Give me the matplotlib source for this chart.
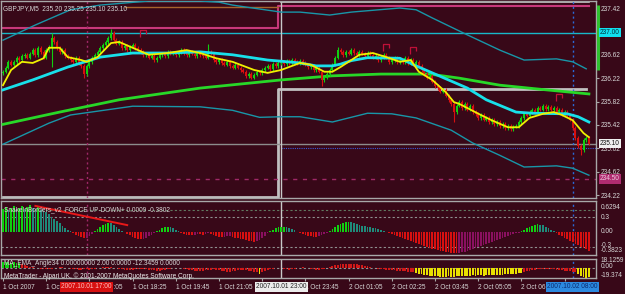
import matplotlib
matplotlib.use('Agg')
import matplotlib.pyplot as plt
import numpy as np
from matplotlib.path import Path
from matplotlib import font_manager
import matplotlib.transforms as mtransforms

# ---------------- data ----------------
first_open = 236.30
closes = [
    236.33, 236.40, 236.50, 236.45,
    236.50, 236.57, 236.53, 236.60, 236.62, 236.57, 236.64,
    236.70, 236.62, 236.74, 236.67, 236.57, 236.70, 236.76,
    236.91, 236.84,
    236.74, 236.67, 236.70, 236.60, 236.57,
    236.53, 236.50, 236.57, 236.47, 236.43, 236.29, 236.43, 236.50,
    236.57, 236.62, 236.67, 236.74, 236.79, 236.84,
    236.91, 236.99, 236.88,
    236.81, 236.84, 236.74, 236.77, 236.70, 236.76, 236.79,
    236.74, 236.70, 236.67, 236.62, 236.64, 236.57, 236.60, 236.53, 236.57,
    236.62, 236.64, 236.60, 236.67, 236.64, 236.65, 236.62, 236.67, 236.70, 236.65,
    236.62, 236.67, 236.64, 236.60, 236.65, 236.62,
    236.60, 236.57, 236.67, 236.64, 236.53, 236.50, 236.53,
    236.48, 236.45, 236.50, 236.43, 236.40, 236.45, 236.40, 236.36,
    236.33, 236.26, 236.29, 236.23, 236.28, 236.33, 236.31,
    236.36, 236.40, 236.43, 236.38, 236.46, 236.43, 236.48,
    236.50, 236.46, 236.52, 236.48, 236.53, 236.50, 236.48, 236.52,
    236.48, 236.45, 236.41, 236.43, 236.36, 236.40, 236.33, 236.19,
    236.23, 236.29, 236.36,
    236.45, 236.57, 236.70, 236.67, 236.62,
    236.67, 236.64, 236.70, 236.65, 236.62, 236.67, 236.64, 236.60, 236.65,
    236.62, 236.57, 236.60, 236.53, 236.58, 236.62, 236.57, 236.50, 236.53, 236.57, 236.50,
    236.53, 236.50, 236.57, 236.48, 236.53, 236.46, 236.50,
    236.43, 236.36, 236.29, 236.23, 236.26, 236.16, 236.09,
    236.05, 235.99, 236.02, 235.92, 235.85, 235.78, 235.64,
    235.75, 235.81, 235.71, 235.78, 235.68, 235.75, 235.64,
    235.61, 235.54, 235.59, 235.51, 235.54, 235.47, 235.51, 235.44,
    235.47, 235.40, 235.44, 235.37, 235.40, 235.35, 235.39, 235.40,
    235.47, 235.54, 235.61, 235.58, 235.64, 235.68, 235.64,
    235.71, 235.68, 235.75, 235.69, 235.73, 235.68, 235.71,
    235.64, 235.68, 235.61, 235.64, 235.58,
    235.51, 235.37, 235.20, 235.06,
    234.99, 235.16, 235.20, 235.10]
typical_wick = 0.03
spike_highs = {18: 237.00, 40: 237.06, 76: 236.81, 124: 236.75}
spike_lows = {18: 236.41, 30: 236.22, 118: 236.09, 167: 235.47, 214: 234.90}

yellow_x = [0, 3, 7, 11, 15, 17, 21, 24, 29, 31, 35, 40, 43, 48, 54, 61, 68, 73, 79, 85,
            93, 98, 103, 110, 114, 119, 122, 125, 129, 132, 137, 142, 147, 151, 154, 159,
            164, 167, 169, 177, 181, 187, 191, 195, 200, 204, 207, 211, 215, 217]
yellow_y = [236.10, 236.36, 236.50, 236.48, 236.56, 236.74, 236.74, 236.58, 236.53, 236.50,
            236.58, 236.82, 236.84, 236.74, 236.62, 236.65, 236.70, 236.65, 236.56, 236.50,
            236.36, 236.31, 236.36, 236.48, 236.45, 236.33, 236.33, 236.41, 236.53, 236.62,
            236.65, 236.58, 236.50, 236.53, 236.33, 236.19, 235.98, 235.81, 235.78, 235.59,
            235.50, 235.38, 235.38, 235.54, 235.61, 235.64, 235.59, 235.50, 235.28, 235.21]
cyan_x = [0, 11, 24, 36, 48, 61, 73, 85, 98, 103, 110, 116, 122, 125, 129, 135, 147, 152,
          159, 172, 179, 190, 196, 209, 213, 217]
cyan_y = [236.02, 236.19, 236.41, 236.58, 236.65, 236.65, 236.67, 236.62, 236.53, 236.51,
          236.48, 236.43, 236.43, 236.46, 236.52, 236.57, 236.56, 236.45, 236.31, 236.05,
          235.85, 235.64, 235.62, 235.61, 235.56, 235.47]
green_x = [0, 21, 43, 73, 103, 122, 140, 158, 169, 184, 199, 217]
green_y = [235.43, 235.64, 235.85, 236.05, 236.19, 236.26, 236.29, 236.29, 236.22, 236.10,
           236.03, 235.95]
upper_x = [0, 12, 25, 36, 54, 73, 80, 85, 103, 110, 121, 129, 147, 153, 159, 172, 184, 193,
           205, 211, 216]
upper_y = [236.87, 237.13, 237.39, 237.47, 237.54, 237.54, 237.52, 237.47, 237.35, 237.35,
           237.30, 237.35, 237.42, 237.39, 237.25, 236.96, 236.70, 236.53, 236.55, 236.50,
           236.38]
lower_x = [0, 17, 25, 48, 73, 85, 95, 103, 110, 122, 135, 144, 153, 166, 174, 184, 193,
           205, 211, 217]
lower_y = [235.09, 235.45, 235.59, 235.74, 235.73, 235.67, 235.55, 235.56, 235.56, 235.47,
           235.62, 235.61, 235.54, 235.33, 235.11, 234.90, 234.70, 234.72, 234.68, 234.56]

fractal_x = [52, 142, 152, 206]
fractal_y = [236.99, 236.75, 236.70, 235.90]

# day high/low level lines
pink_x = [0, 102, 102, 217]
pink_y = [237.08, 237.08, 237.45, 237.45]
brown_x = [45, 102]
brown_y = [237.44, 237.44]
gray_x = [0, 102, 102, 216]
gray_y = [234.19, 234.19, 236.03, 236.03]
graytop_x = [103, 217]
graytop_y = [237.52, 237.52]
bid_price = 235.10
ask_dotted = 235.03
cyan_level = 237.00
purple_level = 234.50
range_hi, range_lo = 237.47, 236.36

vline_1700 = 31
vline_2300 = 103
vline_0800 = 211

force_vals = [
    0.47, 0.50, 0.44, 0.48, 0.52, 0.46, 0.49, 0.53, 0.47, 0.50, 0.55, 0.48, 0.46, 0.51, 0.45, 0.43, 0.40,
    0.36, 0.31, 0.27, 0.22, 0.18, 0.13, 0.09, 0.05, 0.02,
    -0.03, -0.06, -0.09, -0.11, -0.13, -0.12, -0.09, -0.05,
    0.02, 0.06, 0.10, 0.14, 0.17, 0.19, 0.18, 0.15, 0.11, 0.07, 0.03, -0.01,
    -0.04, -0.07, -0.10, -0.12, -0.14, -0.15, -0.14, -0.12, -0.09, -0.06, -0.02,
    0.02, 0.05, 0.08, 0.10, 0.11, 0.10, 0.08, 0.05, 0.02,
    -0.02, -0.04, -0.06, -0.07, -0.07, -0.06, -0.05,
    -0.05, -0.06, -0.04, -0.03, -0.05, -0.07, -0.09, -0.10, -0.11, -0.10, -0.09, -0.08,
    -0.10, -0.12, -0.13, -0.14, -0.15, -0.17,
    -0.18, -0.19, -0.20, -0.19, -0.17, -0.13, -0.08, -0.03,
    0.02, 0.05, 0.08, 0.10, 0.11, 0.11, 0.10, 0.09, 0.07, 0.04, 0.01,
    -0.02, -0.04, -0.06, -0.08, -0.09, -0.10, -0.10, -0.09, -0.07, -0.05, -0.02,
    0.02, 0.06, 0.10, 0.14, 0.17, 0.19, 0.20, 0.21, 0.20,
    0.18, 0.16, 0.14, 0.13, 0.12, 0.11, 0.10, 0.09, 0.08, 0.06, 0.05, 0.03, 0.01,
    -0.02, -0.04, -0.06, -0.08, -0.10, -0.12, -0.14, -0.16, -0.18, -0.20, -0.22, -0.24, -0.26,
    -0.28, -0.30, -0.32, -0.34, -0.35, -0.37, -0.38, -0.39, -0.40, -0.41, -0.42, -0.42,
    -0.43, -0.42, -0.41, -0.40,
    -0.38, -0.36, -0.34, -0.32, -0.30, -0.28, -0.26, -0.24, -0.22, -0.20, -0.18, -0.16, -0.14,
    -0.12, -0.10, -0.08, -0.06, -0.04,
    -0.03, -0.02,
    0.02, 0.05, 0.08, 0.11, 0.13, 0.15, 0.16, 0.15, 0.14,
    0.11, 0.08, 0.05, 0.02,
    -0.03, -0.06, -0.09, -0.12, -0.15, -0.18, -0.21, -0.24, -0.27, -0.30, -0.32, -0.35, -0.38]
force_levels = [0.45, 0.3, -0.3]
trend_x = [12, 46]
trend_y = [0.53, 0.14]

angle_vals = [
    12, 13, 12, 11, 12, 11, 11,
    8, 6, 4, 3, 2, 1, 0, -1, -1, -2, -2, -1, 0, 1, 2, 2, 1, 0, -1, -2, -2, -3, -3, -2,
    -2, -3, -2, -1, 0, 1, 2, 3, 3, 2, 1, 0, -1, -2, -3, -4, -4, -3, -2, -2,
    -1, -1, -2, -3, -3, -4, -5, -5, -4, -3, -2, -1, 0, 1, 1, 0, -1, -2, -3, -4,
    -5, -5, -6, -5, -4, -3, -3, -2, -3, -4, -5, -6, -7, -7, -6, -5, -4, -3, -3, -4,
    -5, -6, -7, -8,
    -11,
    -7, -5, -3, -2, -1, 0, 1, 0, -1, -2, -3, -2, -1, 0, 1, 2, 1, 0, -1, -2,
    -3, -3, -2, -1, 0, 2, 4, 6, 7,
    8, 9, 9, 9, 9, 9, 8, 7, 6,
    5, 4, 2, 1, 0, -1, -2, -2, -3, -3, -4, -4, -5, -5, -6, -6, -7, -8, -8,
    -10, -11, -12, -13, -14, -15, -15, -16, -16, -17, -17, -17, -16, -17, -17, -16, -16, -15,
    -16, -15, -15, -14, -15, -14, -14, -15, -14, -14, -13, -14, -13, -13, -13, -12, -12, -12,
    -11, -11, -10, -10,
    -8, -6, -5, -4, -3, -2, -2, -1, -1, -1, -2, -2, -3, -3, -4, -5, -5, -6, -7, -8,
    -12, -15, -18, -19, -17]

time_ticks = [0, 16, 32, 48, 64, 80, 96, 112, 128, 144, 160, 176, 192, 208]
time_labels = ['1 Oct 2007', '1 Oct 15:45', '1 Oct 17:05', '1 Oct 18:25', '1 Oct 19:45',
               '1 Oct 21:05', '1 Oct 22:25', '1 Oct 23:45', '2 Oct 01:05', '2 Oct 02:25',
               '2 Oct 03:45', '2 Oct 05:05', '2 Oct 06:25', '2 Oct 07:45']
price_ticks = [234.22, 234.62, 235.02, 235.42, 235.82, 236.22, 236.62, 237.02, 237.42]

# ---------------- style ----------------
W, H = 625, 294
BG = '#380818'
FG = '#d8d8d8'
FRAME = '#a8a8a8'
avail = {f.name for f in font_manager.fontManager.ttflist}
if 'Liberation Sans Narrow' in avail:
    fam, FS = ['Liberation Sans Narrow', 'DejaVu Sans'], 5.4
elif 'Liberation Sans' in avail:
    fam, FS = ['Liberation Sans', 'DejaVu Sans'], 4.7
else:
    fam, FS = ['DejaVu Sans'], 4.3
plt.rcParams['font.family'] = fam

fig = plt.figure(figsize=(W / 100, H / 100), dpi=100, facecolor=BG)


def px_axes(x0, y0, x1, y1):
    return fig.add_axes([x0 / W, 1 - y1 / H, (x1 - x0) / W, (y1 - y0) / H])


XL = ((1 - 3) / 2.7, (596 - 3) / 2.7)
ax = px_axes(1, 1, 596, 198)
p1 = px_axes(1, 201, 596, 255)
p2 = px_axes(1, 259, 596, 278)
for a in (ax, p1, p2):
    a.set_facecolor(BG)
    a.set_xlim(XL)
    for s in a.spines.values():
        s.set_color(FRAME)
        s.set_linewidth(1.0)
    a.tick_params(axis='y', left=False, labelleft=False, right=False, labelright=False)
    a.tick_params(axis='x', bottom=False, labelbottom=False)

# ---------------- main panel ----------------
ax.set_ylim(234.17, 237.54)
closes_a = np.array(closes)
n = len(closes_a)
idx = np.arange(n)
opens = np.r_[first_open, closes_a[:-1]]
highs = np.maximum(opens, closes_a) + typical_wick
lows = np.minimum(opens, closes_a) - typical_wick
for k, v in spike_highs.items():
    highs[k] = v
for k, v in spike_lows.items():
    lows[k] = v
up = closes_a >= opens
ccol = np.where(up, '#10d010', '#d81010')

# level / object lines
ax.plot(gray_x, gray_y, color='#c0c0c0', lw=2.0, zorder=2)
ax.plot(graytop_x, graytop_y, color='#c8c8c8', lw=1.2, zorder=2)
ax.plot(pink_x, pink_y, color='#c8387a', lw=1.5, zorder=2)
ax.plot(brown_x, brown_y, color='#a8642c', lw=1.0, zorder=2)
ax.axhline(cyan_level, color='#18b8c8', lw=1.0, zorder=2)
ax.axhline(bid_price, color='#8c8c8c', lw=1.0, zorder=2)
ax.plot([vline_2300, XL[1]], [ask_dotted, ask_dotted], color='#3a5ad8', lw=0.8, ls=(0, (1, 1)), zorder=2)
ax.axhline(purple_level, color='#a02868', lw=1.0, ls=(0, (3, 4)), zorder=2)

# envelopes and MAs
ax.plot(upper_x, upper_y, color='#1896a8', lw=1.0, zorder=3)
ax.plot(lower_x, lower_y, color='#1896a8', lw=1.0, zorder=3)
ax.plot(green_x, green_y, color='#28d828', lw=2.0, zorder=3)
ax.plot(cyan_x, cyan_y, color='#18e0ea', lw=2.0, zorder=5)

ax.vlines(idx, lows, highs, colors=ccol, lw=0.8, zorder=4)
bh = np.maximum(np.abs(closes_a - opens), 0.012)
ax.bar(idx, bh, bottom=np.minimum(opens, closes_a), width=0.7, color=ccol, linewidth=0, zorder=4)
ax.plot(yellow_x, yellow_y, color='#f0f000', lw=1.3, zorder=6)

frac_marker = Path([(-1, -1.2), (-1, 1), (1, 1), (1, -0.2)],
                   [Path.MOVETO, Path.LINETO, Path.LINETO, Path.LINETO])
ax.plot(fractal_x, fractal_y, ls='none', marker=frac_marker, markersize=5.5,
        markerfacecolor='none', markeredgecolor='#c01038', markeredgewidth=0.9, zorder=7)

ax.text(0.004, 0.978, 'GBPJPY,M5  235.20 235.25 235.10 235.10', transform=ax.transAxes,
        ha='left', va='top', fontsize=FS, color=FG, zorder=10)

# right axis of main panel
ax.yaxis.tick_right()
ax.set_yticks(price_ticks)
ax.set_yticklabels(['%.2f' % v for v in price_ticks])
ax.tick_params(axis='y', right=True, labelright=True, length=2, width=0.8, color=FRAME,
               labelsize=FS, labelcolor=FG, pad=1.5)
tr = mtransforms.blended_transform_factory(ax.transAxes, ax.transData)
ax.plot([1.004, 1.004], [range_hi, range_lo], transform=tr, color='#30c030', lw=2.2,
        clip_on=False, zorder=8, solid_capstyle='butt')
box_kw = dict(transform=tr, ha='left', va='center', fontsize=FS, clip_on=False, zorder=12)
ax.text(1.007, cyan_level, '%.2f' % cyan_level, color='#00303a',
        bbox=dict(boxstyle='square,pad=0.2', fc='#10e0f0', ec='none'), **box_kw)
ax.text(1.007, bid_price, '%.2f' % bid_price, color='#101010',
        bbox=dict(boxstyle='square,pad=0.2', fc='#f0f0f0', ec='none'), **box_kw)
ax.text(1.007, purple_level, '%.2f' % purple_level, color='#f0c8e0',
        bbox=dict(boxstyle='square,pad=0.2', fc='#b02c70', ec='none'), **box_kw)

# ---------------- panel 1 ----------------
p1.set_ylim(-0.467, 0.6294)
fv = np.array(force_vals)
prev = np.r_[fv[0], fv[:-1]]
fcol = np.where(fv >= 0, np.where(fv >= prev, '#10d010', '#1f8a7a'),
                np.where(fv <= prev, '#d81010', '#8a1060'))
p1.bar(np.arange(len(fv)), fv, width=0.6, color=fcol, linewidth=0, zorder=3)
for lv, c in zip(force_levels, ['#607860', '#909090', '#909090']):
    p1.axhline(lv, color=c, lw=0.8, ls=(0, (2, 2)), zorder=2)
p1.plot(trend_x, trend_y, color='#e81818', lw=1.4, zorder=4)
p1.text(0.005, 0.83, 'SnakeInBorders_v2  FORCE UP-DOWN+ 0.0009 -0.3802', transform=p1.transAxes,
        ha='left', va='center', fontsize=FS, color=FG, zorder=10)
tr1 = mtransforms.blended_transform_factory(p1.transAxes, p1.transData)
for v, s in [(0.50, '0.6294'), (0.30, '0.3'), (0.0, '0.00'), (-0.27, '-0.3'), (-0.37, '-0.3823')]:
    p1.text(1.008, v, s, transform=tr1, ha='left', va='center', fontsize=FS, color=FG, clip_on=False)

# ---------------- panel 2 ----------------
p2.set_ylim(-19.374, 18.1259)
av = np.array(angle_vals, dtype=float)
acol = np.where(av > 10, '#10d010', np.where(av < -9, '#e8e000', '#d01818'))
p2.bar(np.arange(len(av)), av, width=0.7, color=acol, linewidth=0, zorder=3)
p2.axhline(0, color='#909090', lw=0.8, ls=(0, (2, 2)), zorder=2)
p2.text(0.005, 0.76, 'MA_EMA_Angle34 0.00000000 2.00 0.0000 -12.3459 0.0000', transform=p2.transAxes,
        ha='left', va='center', fontsize=FS, color=FG, zorder=10)
p2.text(0.005, 0.12, 'MetaTrader - Alpari UK, \u00a9 2001-2007 MetaQuotes Software Corp.',
        transform=p2.transAxes, ha='left', va='center', fontsize=FS, color='#f0f0f0', zorder=10)
for yf, s in [(0.90, '18.1259'), (0.60, '0.00'), (0.14, '-19.374')]:
    p2.text(1.008, yf, s, transform=p2.transAxes, ha='left', va='center', fontsize=FS,
            color=FG, clip_on=False)

# vertical lines across panels
for a in (ax, p1, p2):
    a.axvline(vline_1700, color='#a02868', lw=1.0, ls=(0, (1.5, 2)), zorder=2)
    a.axvline(vline_2300, color='#c8c8c8', lw=1.0, zorder=2)
    a.axvline(vline_0800, color='#2a6ad8', lw=1.0, ls=(0, (1.5, 2)), zorder=2)

# time axis
p2.set_xticks(time_ticks)
p2.set_xticklabels(time_labels)
p2.tick_params(axis='x', bottom=True, labelbottom=True, length=2, width=0.8, color=FRAME,
               labelsize=FS, labelcolor=FG, pad=2)
for lbl in p2.get_xticklabels():
    lbl.set_horizontalalignment('left')
trx = mtransforms.blended_transform_factory(p2.transData, p2.transAxes)
tb = dict(transform=trx, ha='center', va='center', fontsize=FS, clip_on=False, zorder=12)
p2.text(vline_1700, -0.47, '2007.10.01 17:00', color='#ffc0c0',
        bbox=dict(boxstyle='square,pad=0.2', fc='#d81010', ec='none'), **tb)
p2.text(vline_2300, -0.47, '2007.10.01 23:00', color='#202020',
        bbox=dict(boxstyle='square,pad=0.2', fc='#ececec', ec='none'), **tb)
p2.text(vline_0800, -0.47, '2007.10.02 08:00', color='#0a2a70',
        bbox=dict(boxstyle='square,pad=0.2', fc='#2c8ae0', ec='none'), **tb)

fig.savefig('out.png', dpi=100, facecolor=BG)
